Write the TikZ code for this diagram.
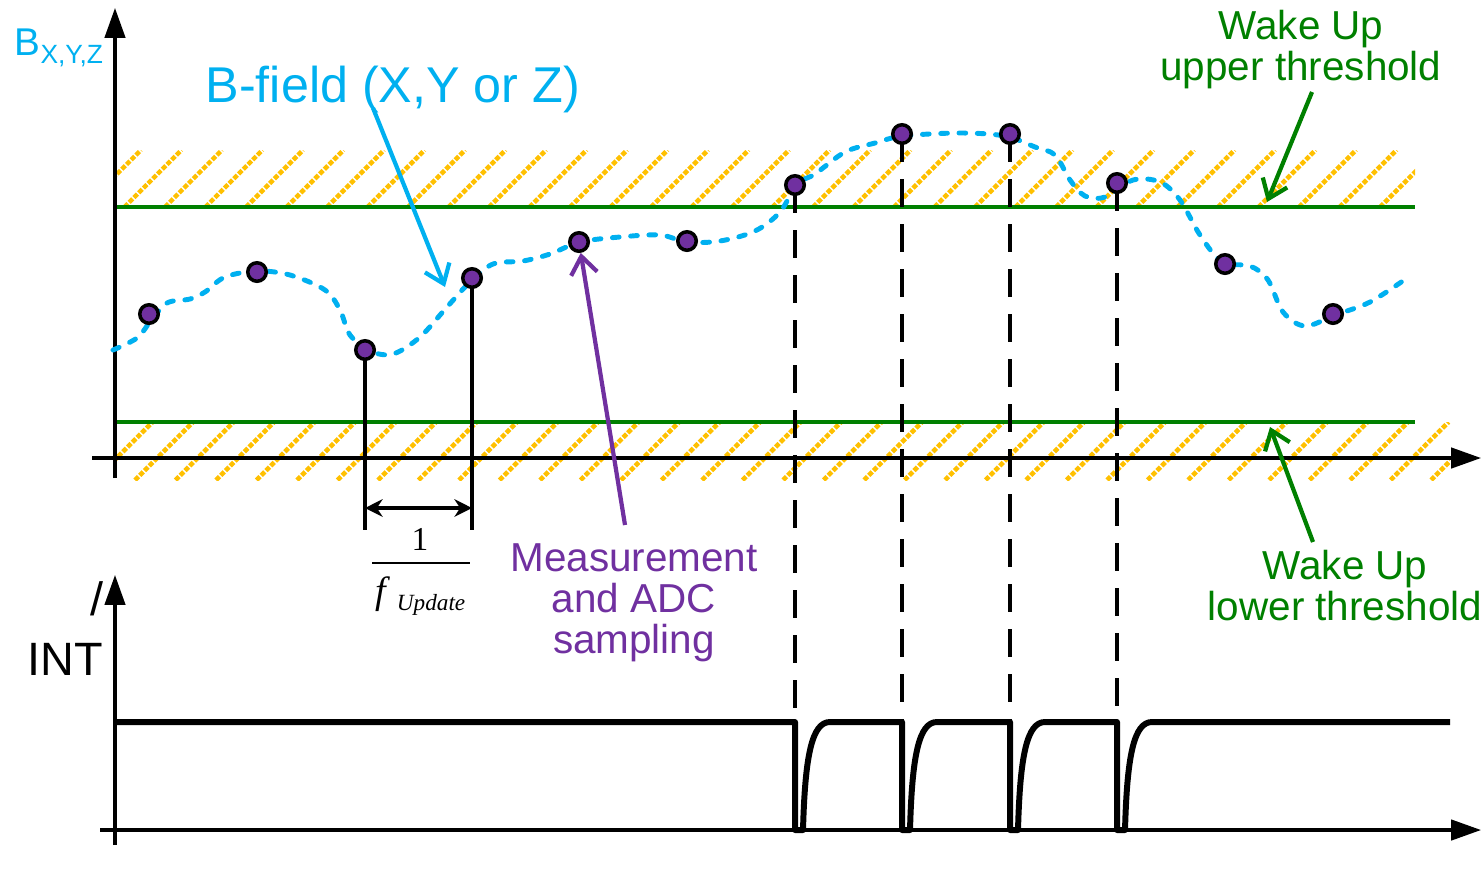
\documentclass[tikz,border=0pt]{standalone}
\usepackage{fontspec}
\setmainfont{Liberation Sans}
\newfontfamily\timesfont{Liberation Serif}
\usetikzlibrary{arrows.meta}

\definecolor{fieldblue}{HTML}{00B0F0}
\definecolor{thrgreen}{HTML}{008000}
\definecolor{adcpurple}{HTML}{7030A0}
\definecolor{hatchyellow}{HTML}{FFC000}

\begin{document}
\begin{tikzpicture}[x=0.01cm, y=-0.01cm,
  axis/.style={line width=0.9pt, -{Triangle[length=8.5pt,width=5.8pt]}},
  thr/.style={draw=thrgreen, line width=1.1pt},
  hatchline/.style={draw=hatchyellow, line width=1.3pt, dash pattern=on 1.4pt off 0.5pt},
  sample/.style={circle, fill=adcpurple, draw=black, line width=1pt, inner sep=0pt, minimum size=0.185cm},
  field/.style={draw=fieldblue, line width=1.4pt, line cap=round, dash pattern=on 1.9pt off 3.3pt},
  stem/.style={line width=0.9pt},
  trig/.style={line width=0.9pt, dash pattern=on 8pt off 4.8pt},
  intline/.style={line width=1.7pt, line join=round},
  dim/.style={line width=0.9pt, {Stealth[length=5pt,width=5pt]}-{Stealth[length=5pt,width=5pt]}},
  callout/.style={line width=1.2pt, -{Straight Barb[length=5pt,width=7.5pt]}},
  lbl/.style={inner sep=0pt, font=\fontsize{11.5}{11.6}\selectfont, align=center}
]
\useasboundingbox (0,0) rectangle (1483,872);

% hatched zones beyond the thresholds
\begin{scope}
  \clip (115,150) rectangle (1415,207);
  \foreach \i in {0,...,33}
    \draw[hatchline] ({84+40.5*\i},207) -- ++(57,-57);
\end{scope}
\begin{scope}
  \clip (115,422) rectangle (1450,480);
  \foreach \i in {0,...,35}
    \draw[hatchline] ({54+40.5*\i},480) -- ++(58,-58);
\end{scope}

% thresholds
\draw[thr] (115,207) -- (1415,207);
\draw[thr] (115,422) -- (1415,422);

% axes
\draw[axis] (115,478) -- (115,8);
\draw[axis] (92,458) -- (1481,458);
\draw[axis] (115,845) -- (115,575);
\draw[axis] (100,830) -- (1481,830);

% B-field
\draw[field] plot[smooth, tension=0.55] coordinates {
  (113,350) (137,338) (150,322) (167,303) (190,299) (205,292) (225,277)
  (257,271) (290,275) (325,290) (340,310) (350,335) (370,351) (393,354)
  (420,337) (447,307) (470,282) (493,264) (523,261) (550,254) (580,242)
  (620,237) (660,235) (687,242) (720,241) (755,231) (780,212) (797,184)
  (815,174) (845,152) (875,143) (903,136) (960,133) (1005,136) (1035,147)
  (1055,155) (1070,180) (1085,196) (1105,197) (1133,180) (1160,182)
  (1180,200) (1200,235) (1222,262) (1250,266) (1268,280) (1283,312)
  (1305,326) (1335,315) (1370,302) (1407,278)};

\coordinate (dimrow) at (115,508);
\coordinate (dimlow) at (115,530);
\coordinate (xbase) at (115,830);

% samples
\foreach \n/\px/\py in {1/149/314, 2/257/272, 3/365/350, 4/472/278,
    5/579/242, 6/687/241, 7/795/185, 8/902/134, 9/1010/134,
    10/1117/183, 11/1225/264, 12/1333/314}
  \coordinate (c\n) at (\px,\py);

\draw[stem] (c3) -- (c3 |- dimlow);
\draw[stem] (c4) -- (c4 |- dimlow);
\foreach \n in {7,8,9,10}
  \draw[trig] (c\n) -- (c\n |- xbase);

\foreach \n in {1,...,12}
  \node[sample] (s\n) at (c\n) {};

% update period
\draw[dim] (c3 |- dimrow) -- (c4 |- dimrow);
\node[anchor=base, inner sep=0pt, font=\timesfont\fontsize{9.5}{11}\selectfont] (one) at (420,550) {1};
\draw[line width=0.5pt] (372,563) -- (470,563);
\node[anchor=base west, inner sep=0pt, font=\timesfont\fontsize{10.8}{12}\selectfont] (fupd) at (375,603)
  {\textit{f}\,\raisebox{-2pt}{\fontsize{6.6}{8}\selectfont\textit{Update}}};

% INT output
\draw[intline] (115,722)
  foreach \t in {795,902,1010,1117} {
    -- (\t,722) -- (\t,830) -- ++(8,0)
    .. controls +(2,-75) and +(-18,0) .. ++(27,-108)
  } -- (1450,722);

% labels
\node[anchor=base west, inner sep=0pt, text=fieldblue, font=\fontsize{11}{13}\selectfont] (bxyz) at (14,55)
  {B\raisebox{-2.3pt}{\fontsize{7.5}{9}\selectfont X,Y,Z}};
\node[anchor=base west, inner sep=0pt, text=fieldblue, font=\fontsize{14.3}{17}\selectfont] (bfield) at (205,102)
  {B-field (X,Y or Z)};
\node[lbl, anchor=base, text=thrgreen] (upthr) at (1301,80) {Wake Up\\upper threshold};
\node[lbl, anchor=base, text=thrgreen] (lowthr) at (1345,620) {Wake Up\\lower threshold};
\node[lbl, anchor=base, text=adcpurple] (adc) at (634,653) {Measurement\\and ADC\\sampling};
\node[anchor=base east, inner sep=0pt, align=right, font=\fontsize{13.3}{17}\selectfont] (intlbl) at (104,675) {/\\INT};

% callouts
\coordinate (bf-from) at (373,108);
\coordinate (bf-to) at (445,287);
\coordinate (adc-from) at (625,525);
\coordinate (up-from) at (1312,92);
\coordinate (up-to) at (1267,202);
\coordinate (low-from) at (1313,542);
\coordinate (low-to) at (1270,427);
\draw[callout, fieldblue] (bf-from) -- (bf-to);
\draw[callout, adcpurple] (adc-from) -- (s5);
\draw[callout, thrgreen] (up-from) -- (up-to);
\draw[callout, thrgreen] (low-from) -- (low-to);
\end{tikzpicture}
\end{document}
